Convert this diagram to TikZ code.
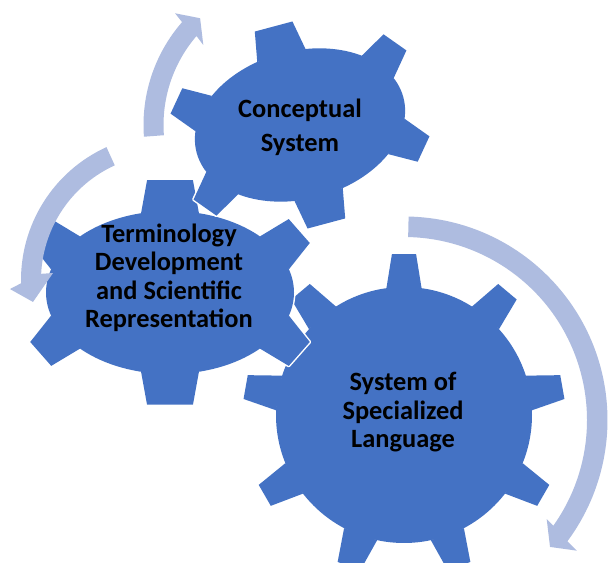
\documentclass[tikz,border=0pt]{standalone}
\usepackage{fontspec}
\setmainfont{Carlito}
\definecolor{gearblue}{HTML}{4472C4}
\definecolor{arrowblue}{HTML}{AEBCE0}
\tikzset{
  gearedge/.style={draw=white, line width=2.2pt, line join=round},
  gearbody/.style={fill=gearblue},
  cyclearrow/.style={fill=arrowblue},
  biglabel/.style={font=\bfseries\fontsize{19.8}{21.2}\selectfont, align=center, text=black, inner sep=0pt},
  toplabel/.style={font=\bfseries\fontsize{19.8}{25.8}\selectfont, align=center, text=black, inner sep=0pt},
  leftlabel/.style={font=\bfseries\fontsize{19.8}{21.4}\selectfont, align=center, text=black, inner sep=0pt},
}
% one tooth on an elliptic rim: #1 angle, #2 x radius, #3 y radius,
% #4 tooth height, #5 half-angle of the base, #6 narrowing at the tip, #7 style
\newcommand{\geartooth}[7]{%
  \pgfmathsetmacro{\gnx}{cos(#1)*#3}%
  \pgfmathsetmacro{\gny}{sin(#1)*#2}%
  \pgfmathsetmacro{\gnl}{veclen(\gnx,\gny)}%
  \pgfmathsetmacro{\gux}{\gnx/\gnl}%
  \pgfmathsetmacro{\guy}{\gny/\gnl}%
  \pgfmathsetmacro{\gax}{#2*cos(#1-#5)}%
  \pgfmathsetmacro{\gay}{#3*sin(#1-#5)}%
  \pgfmathsetmacro{\gbx}{#2*cos(#1+#5)}%
  \pgfmathsetmacro{\gby}{#3*sin(#1+#5)}%
  \path[#7] (\gax,\gay)
    -- ({\gax+#4*\gux-#6*\guy},{\gay+#4*\guy+#6*\gux})
    -- ({\gbx+#4*\gux+#6*\guy},{\gby+#4*\guy-#6*\gux})
    -- (\gbx,\gby) -- cycle;
}
% whole gear: #1 x radius, #2 y radius, #3 tooth height, #4 half-angle,
% #5 narrowing, #6 list of tooth angles, #7 style
\newcommand{\gearshape}[7]{%
  \path[#7] (0,0) ellipse [x radius=#1, y radius=#2];
  \foreach \ga in {#6} {\geartooth{\ga}{#1}{#2}{#3}{#4}{#5}{#7}}%
}
\begin{document}
\begin{tikzpicture}[x=0.75pt, y=0.75pt]
  \fill[white] (0,0) rectangle (608,563);
  \useasboundingbox (0,0) rectangle (608,563);

  % large nine-tooth gear
  \begin{scope}[shift={(404,148)}]
    \gearshape{128}{128}{34}{7.9}{5.5}{90,130,...,410}{gearedge}
    \gearshape{128}{128}{34}{7.9}{5.5}{90,130,...,410}{gearbody}
  \end{scope}

  % left six-tooth gear
  \begin{scope}[shift={(170,270.5)}]
    \gearshape{124}{81.5}{33}{13.5}{6}{30,90,...,330}{gearedge}
    \gearshape{124}{81.5}{33}{13.5}{6}{30,90,...,330}{gearbody}
  \end{scope}

  % upper six-tooth gear, turned a little
  \begin{scope}[shift={(300,438)}, rotate=15]
    \gearshape{107}{74}{30}{13.5}{5.5}{30,90,...,330}{gearedge}
    \gearshape{107}{74}{30}{13.5}{5.5}{30,90,...,330}{gearbody}
  \end{scope}

  % circular arrows
  \begin{scope}[shift={(404,143)}]
    \fill[cyclearrow] (88.7:203.5) arc[start angle=88.7, end angle=-36.6, radius=203.5]
      -- (-37.1:216.6) -- (-41:193.5) -- (-34.8:173.8) -- (-35.3:183)
      arc[start angle=-35.3, end angle=88.7, radius=183] -- cycle;
  \end{scope}
  \begin{scope}[shift={(300,438)}]
    \fill[cyclearrow] (184.3:156.5) arc[start angle=184.3, end angle=138.9, radius=156.5]
      -- (138.2:167.6) -- (133.1:146.2) -- (140.4:125.5) -- (139.3:136.5)
      arc[start angle=139.3, end angle=184.3, radius=136.5] -- cycle;
  \end{scope}
  \begin{scope}[shift={(167,283)}]
    \fill[cyclearrow] (114.5:146) arc[start angle=114.5, end angle=181.3, radius=146]
      -- (183.3:157.3) -- (189.3:135.8) -- (176.5:114.2) -- (177.2:126)
      arc[start angle=177.2, end angle=114.5, radius=126] -- cycle;
  \end{scope}

  % labels (base anchor sits on the last line)
  \node[toplabel, anchor=base] (concept) at (300,411.3) {Conceptual\\System};
  \node[leftlabel, anchor=base] (termino) at (169,235) {Terminology\\Development\\and Scientific\\Representation};
  \node[biglabel, anchor=base] (special) at (403,115.7) {System of\\Specialized\\Language};
\end{tikzpicture}
\end{document}
